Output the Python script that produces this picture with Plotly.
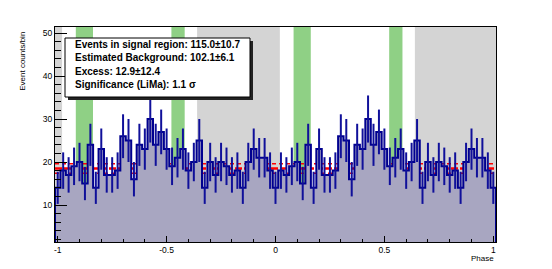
import numpy as np
import plotly.graph_objects as go

# ---- data (one period, bins of width 0.025 centred on k*0.025) ----
phase_counts = [14, 18, 17, 19, 20, 15, 24, 14, 23, 17,
                17, 18, 26, 25, 16, 24, 23, 30, 24, 27,
                23, 19, 21, 23, 18, 20, 25, 14, 20, 17,
                20, 19, 17, 18, 14, 20, 23, 21, 21, 18]
bin_width = 0.025
signal_regions = [(0.083, 0.162), (0.522, 0.583)]
background_region = (0.64, 1.02)
bg_per_bin = 18.5
bg_err_per_bin = 1.1
stats_lines = ["Events in signal region: 115.0\u00b110.7",
               "Estimated Background: 102.1\u00b16.1",
               "Excess: 12.9\u00b112.4",
               "Significance (LiMa): 1.1 \u03c3"]
x_tick_vals = [-1, -0.5, 0, 0.5, 1]
x_tick_text = ["-1", "-0.5", "0", "0.5", "1"]
y_tick_vals = [10, 20, 30, 40, 50]
y_tick_text = ["10", "20", "30", "40", "50"]

# ---- build histogram over two periods ----
nper = len(phase_counts)
nb = 2 * nper + 1
centers = -1 + bin_width * np.arange(nb)
values = np.array([phase_counts[j % nper] for j in range(nb)], dtype=float)
edges = np.concatenate([centers - bin_width / 2, [centers[-1] + bin_width / 2]])
xlo, xhi = edges[0], edges[-1]
ylo, yhi = 1.4, 51.4

xs, ys = [edges[0]], [0]
for i in range(nb):
    xs += [edges[i], edges[i + 1]]
    ys += [values[i], values[i]]
xs.append(edges[-1]); ys.append(0)

fig = go.Figure()

# background level lines (under histogram fill)
for lvl, w, dash in [(bg_per_bin + bg_err_per_bin, 1.5, "4px,3px"),
                     (bg_per_bin - bg_err_per_bin, 1.5, "4px,3px"),
                     (bg_per_bin, 2.5, "7px,2px")]:
    fig.add_trace(go.Scatter(x=[xlo, xhi], y=[lvl, lvl], mode="lines",
                             line=dict(color="#ff0000", width=w, dash=dash),
                             hoverinfo="skip", showlegend=False))

fig.add_trace(go.Scatter(x=xs, y=ys, mode="lines", fill="tozeroy",
                         fillcolor="rgb(168,166,193)",
                         line=dict(color="#00008f", width=2),
                         hoverinfo="skip", showlegend=False))

fig.add_trace(go.Scatter(x=centers, y=values, mode="markers",
                         marker=dict(size=1, color="rgba(0,0,0,0)"),
                         error_y=dict(type="data", array=np.sqrt(values), visible=True,
                                      color="#10109a", thickness=2, width=0),
                         hoverinfo="skip", showlegend=False))

shapes = []
def band(a, b, color):
    a2, b2 = max(a, xlo), min(b, xhi)
    if b2 > a2:
        shapes.append(dict(type="rect", xref="x", yref="paper", x0=a2, x1=b2, y0=0, y1=1,
                           fillcolor=color, line=dict(width=0), layer="below"))

for off in (-2, -1, 0):
    band(background_region[0] + off, background_region[1] + off, "#d4d4d4")
    for a, b in signal_regions:
        band(a + off, b + off, "rgb(143,208,133)")

# page has an 8px body margin; positions below are screen pixels
OFF = 8
L, R, T, B = 55, 496, 26.7, 241.7
pw, ph = R - L, B - T
def px(x): return (x - L) / pw
def py(y): return (B - y) / ph
bx0, bx1, by0, by1 = 65, 250, 37.7, 96.7
shapes.append(dict(type="rect", xref="paper", yref="paper", x0=px(bx0 + 3), x1=px(bx1 + 3),
                   y0=py(by1 + 3), y1=py(by0 + 3), fillcolor="#222222", line=dict(width=0), layer="above"))
shapes.append(dict(type="rect", xref="paper", yref="paper", x0=px(bx0), x1=px(bx1),
                   y0=py(by1), y1=py(by0), fillcolor="white", line=dict(color="black", width=1), layer="above"))

annotations = []
for i, t in enumerate(stats_lines):
    annotations.append(dict(text="<b>" + t + "</b>", x=px(73), y=py(44 + 13.4 * i), xref="paper", yref="paper",
                            xanchor="left", yanchor="middle", showarrow=False,
                            font=dict(family="Liberation Sans, Arial", size=10, color="black")))
annotations.append(dict(text="Event counts/bin", textangle=-90, x=px(23), y=py(30), xref="paper", yref="paper",
                        xanchor="center", yanchor="top", showarrow=False,
                        font=dict(family="Liberation Sans, Arial", size=8, color="black")))
annotations.append(dict(text="Phase", x=px(496), y=py(258), xref="paper", yref="paper",
                        xanchor="right", yanchor="middle", showarrow=False,
                        font=dict(family="Liberation Sans, Arial", size=8, color="black")))

fig.update_layout(
    width=552 - OFF, height=269 - OFF,
    margin=dict(l=L - OFF, r=552 - R, t=T - OFF, b=269 - B, pad=0),
    paper_bgcolor="white", plot_bgcolor="white", showlegend=False,
    shapes=shapes, annotations=annotations,
    xaxis=dict(range=[xlo, xhi], tickvals=x_tick_vals, ticktext=x_tick_text,
               ticks="inside", ticklen=6, tickcolor="black", showgrid=False, zeroline=False,
               showline=True, linecolor="black", linewidth=1, mirror=True,
               minor=dict(ticks="inside", dtick=0.1, tick0=0, ticklen=3, tickcolor="black"),
               tickfont=dict(family="Liberation Sans, Arial", size=8.5, color="black")),
    yaxis=dict(range=[ylo, yhi], tickvals=y_tick_vals, ticktext=y_tick_text,
               ticks="inside", ticklen=12, tickcolor="black", showgrid=False, zeroline=False,
               showline=True, linecolor="black", linewidth=1, mirror=True,
               minor=dict(ticks="inside", dtick=2, tick0=0, ticklen=6, tickcolor="black"),
               tickfont=dict(family="Liberation Sans, Arial", size=8.5, color="black")),
)

fig.write_html("out.html")
